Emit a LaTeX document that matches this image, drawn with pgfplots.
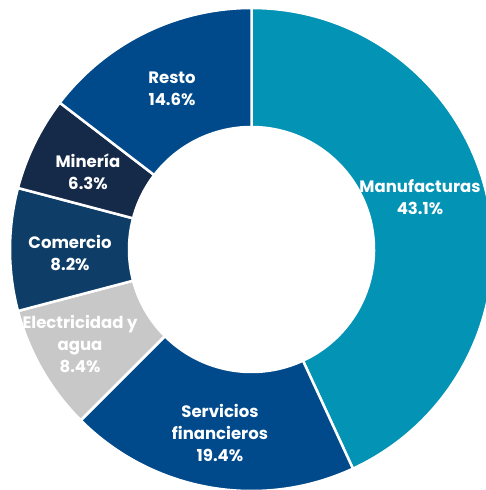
\documentclass[border=0pt]{standalone}
\usepackage{pgfplots}
\pgfplotsset{compat=1.18}
\usepackage{fontspec}
\setmainfont{Poppins}
\definecolor{cManu}{RGB}{3,147,180}
\definecolor{cBlue}{RGB}{0,74,140}
\definecolor{cGray}{RGB}{200,200,200}
\definecolor{cCom}{RGB}{14,62,104}
\definecolor{cMin}{RGB}{21,41,72}
\begin{document}
\begin{tikzpicture}
\begin{axis}[width=486pt,height=490pt,scale only axis,xmin=0,xmax=486,ymin=0,ymax=490,
  y dir=reverse,hide axis,clip=true]
\def\cx{251.5}\def\cy{249.5}\def\R{241.5}\def\r{122.5}
\xdef\a{90}
\foreach \v/\c in {43.1/cManu, 19.4/cBlue, 8.4/cGray, 8.2/cCom, 6.3/cMin, 14.6/cBlue}{
  \pgfmathsetmacro{\b}{\a-3.6*\v}
  \edef\temp{\noexpand\fill[\c, draw=white, line width=2.5pt, shift={(axis cs:\cx,\cy)}]
    (\a:\R pt) arc[start angle=\a, end angle=\b, radius=\R pt]
    -- (\b:\r pt) arc[start angle=\b, end angle=\a, radius=\r pt] -- cycle;}
  \temp
  \xdef\a{\b}
}
\tikzset{lab/.style={white, font=\bfseries\fontsize{16.5}{22}\selectfont, align=center, inner sep=0pt}}
\node[lab] at (axis cs:420,197) {Manufacturas\\43.1\%};
\node[lab] at (axis cs:220,433) {Servicios\\financieros\\19.4\%};
\node[lab] at (axis cs:80,344) {Electricidad y\\agua\\8.4\%};
\node[lab] at (axis cs:70,253) {Comercio\\8.2\%};
\node[lab] at (axis cs:88,172) {Minería\\6.3\%};
\node[lab] at (axis cs:172,89) {Resto\\14.6\%};
\end{axis}
\pgfresetboundingbox
\path (0,0) rectangle (486pt,490pt);
\end{tikzpicture}
\end{document}
